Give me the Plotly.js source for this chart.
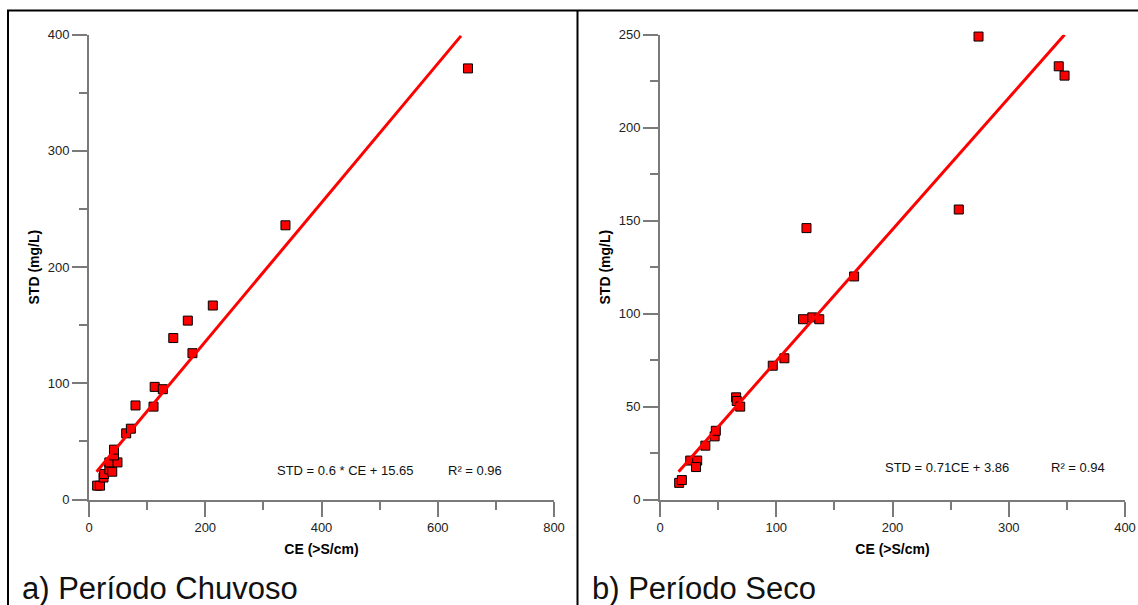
<!DOCTYPE html>
<html>
<head>
<meta charset="utf-8">
<script src="https://cdn.plot.ly/plotly-3.0.1.min.js"></script>
<style>html,body{margin:0;padding:0;background:#fff;}#chart{width:1138px;height:605px;}</style>
</head>
<body>
<div id="chart"></div>
<script>
// a) Período Chuvoso
const ceChuvoso  = [14, 19, 25, 26, 35, 40, 35, 49, 43, 43, 64, 72, 80, 111, 113, 127, 145, 170, 178, 213, 338, 652];
const stdChuvoso = [12, 12, 19, 22, 26, 24, 32, 32, 38, 43, 57, 61, 81, 80, 97, 95, 139, 154, 126, 167, 236, 371];
const fitChuvosoX = [13, 640];
const fitChuvosoY = [24, 399];

// b) Período Seco
const ceSeco  = [16.5, 18.8, 26, 32, 31, 39, 47, 48, 65.5, 66, 69, 97, 107, 123, 131, 137, 126, 167, 257, 274, 343, 348];
const stdSeco = [9, 10.5, 21, 21, 17.5, 29, 34, 37, 55, 53, 50, 72, 76, 97, 98, 97, 146, 120, 156, 249, 233, 228];
const fitSecoX = [16, 348];
const fitSecoY = [15, 250];

const ticksChuvosoX = [0, 200, 400, 600, 800];
const ticksChuvosoY = [0, 100, 200, 300, 400];
const ticksSecoX = [0, 100, 200, 300, 400];
const ticksSecoY = [0, 50, 100, 150, 200, 250];

const eqChuvoso = "STD = 0.6 * CE + 15.65";
const r2Chuvoso = "R² = 0.96";
const eqSeco = "STD = 0.71CE + 3.86";
const r2Seco = "R² = 0.94";
const xTitle = "CE (>S/cm)";
const yTitle = "STD (mg/L)";
const panelA = "a) Período Chuvoso";
const panelB = "b) Período Seco";

const W = 1138, H = 605;
const px = v => v / W;
const py = v => (H - v) / H;

const FONT = "Liberation Sans, Arial, sans-serif";
const AX = '#7a7a7a';

const marker = {symbol: 'square', size: 9, color: '#ff0000', line: {color: '#000', width: 1}};
const fitLine = {color: '#ff0000', width: 3};

const traces = [
  {x: ceChuvoso, y: stdChuvoso, type: 'scatter', mode: 'markers', marker: marker, xaxis: 'x', yaxis: 'y', cliponaxis: false},
  {x: fitChuvosoX, y: fitChuvosoY, type: 'scatter', mode: 'lines', line: fitLine, xaxis: 'x', yaxis: 'y'},
  {x: ceSeco, y: stdSeco, type: 'scatter', mode: 'markers', marker: marker, xaxis: 'x2', yaxis: 'y2', cliponaxis: false},
  {x: fitSecoX, y: fitSecoY, type: 'scatter', mode: 'lines', line: fitLine, xaxis: 'x2', yaxis: 'y2'}
];

function axis(domain, range, tickvals, minorDtick, anchor, title, standoff) {
  return {
    domain: domain, range: range, anchor: anchor,
    tickmode: 'array', tickvals: tickvals, ticktext: tickvals.map(String),
    ticks: 'outside', ticklen: 15, tickwidth: 2, tickcolor: AX,
    showline: true, linecolor: AX, linewidth: 2,
    showgrid: false, zeroline: false, automargin: false, fixedrange: true,
    tickfont: {family: FONT, size: 13, color: '#222'},
    minor: {dtick: minorDtick, ticks: 'outside', ticklen: 8, tickwidth: 2, tickcolor: AX, showgrid: false},
    title: {text: title, font: {family: FONT, size: 14, color: '#000', weight: 'bold'}, standoff: standoff}
  };
}

const xd1 = [px(89), px(554)];
const xd2 = [px(660), px(1125)];
const yd = [py(499.6), py(34.7)];

const layout = {
  width: W, height: H,
  margin: {l: 0, r: 0, t: 0, b: 0},
  paper_bgcolor: '#fff', plot_bgcolor: 'rgba(0,0,0,0)',
  showlegend: false,
  font: {family: FONT},
  xaxis: axis(xd1, [0, 800], ticksChuvosoX, 100, 'y', xTitle, 10),
  yaxis: axis(yd, [0, 400], ticksChuvosoY, 50, 'x', yTitle, 5),
  xaxis2: axis(xd2, [0, 400], ticksSecoX, 50, 'y2', xTitle, 10),
  yaxis2: axis(yd, [0, 250], ticksSecoY, 25, 'x2', yTitle, 5),
  annotations: [
    {xref: 'x', yref: 'y', x: 320, y: 25, text: eqChuvoso, showarrow: false, xanchor: 'left', yanchor: 'middle', font: {family: FONT, size: 13, color: '#111'}},
    {xref: 'x', yref: 'y', x: 615, y: 25, text: r2Chuvoso, showarrow: false, xanchor: 'left', yanchor: 'middle', font: {family: FONT, size: 13, color: '#111'}},
    {xref: 'x2', yref: 'y2', x: 192, y: 17.2, text: eqSeco, showarrow: false, xanchor: 'left', yanchor: 'middle', font: {family: FONT, size: 13, color: '#111'}},
    {xref: 'x2', yref: 'y2', x: 334.6, y: 17.2, text: r2Seco, showarrow: false, xanchor: 'left', yanchor: 'middle', font: {family: FONT, size: 13, color: '#111'}},
    {xref: 'paper', yref: 'paper', x: px(20), y: py(569), text: panelA, showarrow: false, xanchor: 'left', yanchor: 'top', font: {family: FONT, size: 31, color: '#111'}},
    {xref: 'paper', yref: 'paper', x: px(590), y: py(569), text: panelB, showarrow: false, xanchor: 'left', yanchor: 'top', font: {family: FONT, size: 31, color: '#111'}}
  ],
  shapes: [
    {type: 'line', xref: 'paper', yref: 'paper', x0: px(7), x1: 1, y0: py(10.5), y1: py(10.5), line: {color: '#000', width: 2}},
    {type: 'line', xref: 'paper', yref: 'paper', x0: px(8), x1: px(8), y0: py(10), y1: 0, line: {color: '#000', width: 2}},
    {type: 'line', xref: 'paper', yref: 'paper', x0: px(577.5), x1: px(577.5), y0: py(10), y1: 0, line: {color: '#000', width: 2}}
  ]
};

Plotly.newPlot('chart', traces, layout, {staticPlot: true, displayModeBar: false});
</script>
</body>
</html>
